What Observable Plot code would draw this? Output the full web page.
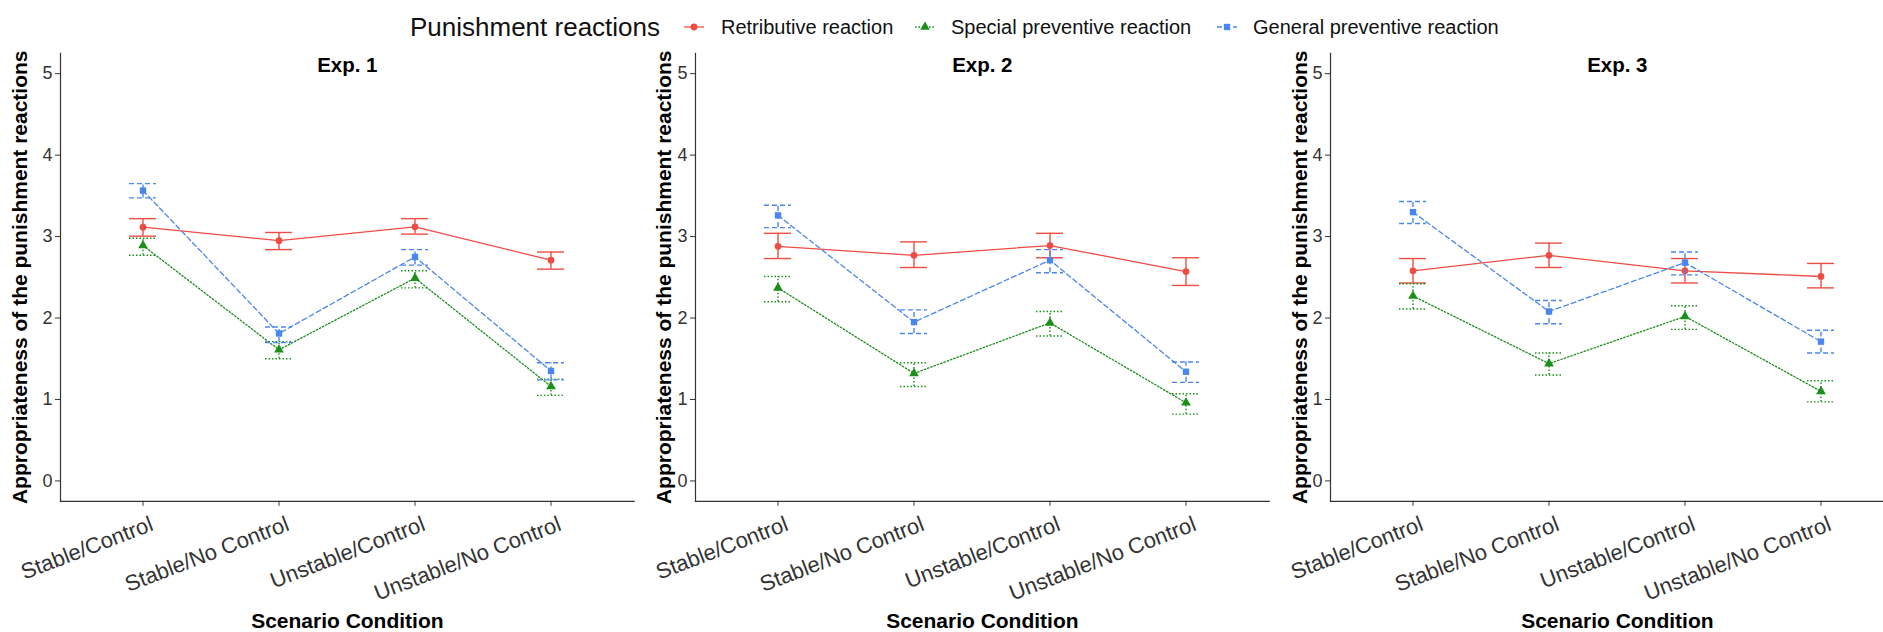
<!DOCTYPE html>
<html>
<head>
<meta charset="utf-8">
<script src="https://cdn.jsdelivr.net/npm/d3@7"></script>
<script src="https://cdn.jsdelivr.net/npm/@observablehq/plot@0.6"></script>
<style>
  html, body { margin: 0; padding: 0; background: #fff; }
  #wrap { position: relative; width: 1883px; height: 632px; overflow: hidden; background: #fff;
          font-family: "Liberation Sans", Arial, sans-serif; }
  .panel { position: absolute; top: 0; }
  .lg { position: absolute; white-space: nowrap; color: #111; line-height: 1; }
  .key { position: absolute; }
</style>
</head>
<body>
<div id="wrap"></div>
<script>
// ---------- data ----------
const conditions = ["Stable/Control", "Stable/No Control", "Unstable/Control", "Unstable/No Control"];
const seriesNames = ["Retributive reaction", "Special preventive reaction", "General preventive reaction"];
const experiments = ["Exp. 1", "Exp. 2", "Exp. 3"];
const yTicks = [0, 1, 2, 3, 4, 5];

// Exp. 1
const exp1Retributive      = [3.115, 2.95, 3.12, 2.71];
const exp1RetributiveLo    = [3.005, 2.84, 3.03, 2.60];
const exp1RetributiveHi    = [3.22, 3.05, 3.22, 2.81];
const exp1Special          = [2.89, 1.61, 2.49, 1.16];
const exp1SpecialLo        = [2.77, 1.50, 2.37, 1.05];
const exp1SpecialHi        = [2.98, 1.71, 2.58, 1.25];
const exp1General          = [3.565, 1.81, 2.75, 1.35];
const exp1GeneralLo        = [3.475, 1.70, 2.65, 1.24];
const exp1GeneralHi        = [3.65, 1.89, 2.84, 1.45];
// Exp. 2
const exp2Retributive      = [2.88, 2.77, 2.89, 2.57];
const exp2RetributiveLo    = [2.73, 2.62, 2.74, 2.40];
const exp2RetributiveHi    = [3.04, 2.935, 3.04, 2.74];
const exp2Special          = [2.37, 1.32, 1.94, 0.96];
const exp2SpecialLo        = [2.20, 1.16, 1.78, 0.82];
const exp2SpecialHi        = [2.51, 1.45, 2.08, 1.07];
const exp2General          = [3.26, 1.95, 2.71, 1.34];
const exp2GeneralLo        = [3.11, 1.81, 2.555, 1.21];
const exp2GeneralHi        = [3.385, 2.10, 2.84, 1.46];
// Exp. 3
const exp3Retributive      = [2.58, 2.77, 2.58, 2.51];
const exp3RetributiveLo    = [2.43, 2.62, 2.43, 2.37];
const exp3RetributiveHi    = [2.73, 2.92, 2.73, 2.67];
const exp3Special          = [2.27, 1.44, 2.02, 1.10];
const exp3SpecialLo        = [2.11, 1.30, 1.86, 0.97];
const exp3SpecialHi        = [2.42, 1.57, 2.15, 1.23];
const exp3General          = [3.30, 2.08, 2.68, 1.71];
const exp3GeneralLo        = [3.16, 1.93, 2.53, 1.57];
const exp3GeneralHi        = [3.43, 2.215, 2.81, 1.85];

// ---------- styles ----------
const colors = ["#EE4D44", "#1A8F1A", "#4A86EC"];
const dashes = [null, "1.5,2", "5,3"];
const symbols = ["circle", "triangle", "square"];
const radii = [3.4, 3.6, 3.6];
const FONT = '"Liberation Sans", Arial, sans-serif';

const expData = [
  [[exp1Retributive, exp1RetributiveLo, exp1RetributiveHi], [exp1Special, exp1SpecialLo, exp1SpecialHi], [exp1General, exp1GeneralLo, exp1GeneralHi]],
  [[exp2Retributive, exp2RetributiveLo, exp2RetributiveHi], [exp2Special, exp2SpecialLo, exp2SpecialHi], [exp2General, exp2GeneralLo, exp2GeneralHi]],
  [[exp3Retributive, exp3RetributiveLo, exp3RetributiveHi], [exp3Special, exp3SpecialLo, exp3SpecialHi], [exp3General, exp3GeneralLo, exp3GeneralHi]]
];

// panel geometry: frame left x, y-title offset
const panelLeft = [59.6, 695.1, 1330.0];
const yTitleOffset = [40, 31, 30];
const frameW = 573.7, ML = 60, MR = 60, MT = 52.8, MB = 131.2, H = 632;

const wrap = document.getElementById("wrap");

experiments.forEach((title, e) => {
  const marks = [];
  marks.push(Plot.frame({anchor: "left", stroke: "#333", strokeWidth: 1.2}));
  marks.push(Plot.frame({anchor: "bottom", stroke: "#333", strokeWidth: 1.2}));
  marks.push(Plot.axisY({ticks: yTicks, tickFormat: d3.format("d"), tickSize: 5, tickPadding: 3, fontSize: 18, color: "#333", label: null}));
  // x tick marks
  marks.push(Plot.axisX({tickSize: 5, tickFormat: () => "", color: "#333", label: null}));
  // x tick labels (rotated)
  marks.push(Plot.axisX({tickSize: 0, tickPadding: 22, tickRotate: -21, dx: 9, fontSize: 22, color: "#333", label: null}));
  seriesNames.forEach((name, s) => {
    const [m, lo, hi] = expData[e][s];
    const d = conditions.map((c, i) => ({series: name, cond: c, mean: m[i], lo: lo[i], hi: hi[i]}));
    const st = {stroke: colors[s], strokeWidth: 1.4};
    if (dashes[s]) st.strokeDasharray = dashes[s];
    marks.push(Plot.ruleX(d, {x: "cond", y1: "lo", y2: "hi", ...st}));
    marks.push(Plot.tickY(d, {x: "cond", y: "lo", ...st}));
    marks.push(Plot.tickY(d, {x: "cond", y: "hi", ...st}));
    marks.push(Plot.line(d, {x: "cond", y: "mean", ...st, strokeWidth: 1.3}));
    marks.push(Plot.dot(d, {x: "cond", y: "mean", symbol: () => symbols[s], r: radii[s], fill: colors[s], stroke: "none"}));
  });
  marks.push(Plot.text([title], {frameAnchor: "top", dy: 12, text: d => d, fontSize: 20.5, fontWeight: "bold", fill: "#000", lineAnchor: "middle", textAnchor: "middle"}));
  marks.push(Plot.text(["Scenario Condition"], {frameAnchor: "bottom", dy: 120, text: d => d, fontSize: 21, fontWeight: "bold", fill: "#000", lineAnchor: "middle", textAnchor: "middle"}));
  marks.push(Plot.text(["Appropriateness of the punishment reactions"], {frameAnchor: "left", dx: -yTitleOffset[e], rotate: -90, text: d => d, fontSize: 21, fontWeight: "bold", fill: "#000", lineAnchor: "middle", textAnchor: "middle"}));

  const chart = Plot.plot({
    width: ML + frameW + MR, height: H,
    marginLeft: ML, marginRight: MR, marginTop: MT, marginBottom: MB,
    style: {background: "transparent", fontFamily: FONT, overflow: "visible"},
    x: {type: "band", domain: conditions, paddingInner: 0.8, paddingOuter: 0.5},
    y: {domain: [-0.25, 5.25]},
    symbol: {type: "identity"},
    marks
  });
  chart.classList.add("panel");
  chart.style.position = "absolute";
  chart.style.left = (panelLeft[e] - ML) + "px";
  chart.style.top = "0px";
  wrap.appendChild(chart);
});

// ---------- legend (HTML, above the panels) ----------
function addText(txt, x, size) {
  const el = document.createElement("div");
  el.className = "lg";
  el.textContent = txt;
  el.style.left = x + "px";
  el.style.top = (27 - size * 0.487) + "px";
  el.style.fontSize = size + "px";
  wrap.appendChild(el);
}
function addKey(x, s) {
  const ns = "http://www.w3.org/2000/svg";
  const svg = document.createElementNS(ns, "svg");
  svg.setAttribute("width", 20); svg.setAttribute("height", 14);
  svg.setAttribute("class", "key");
  svg.style.left = x + "px"; svg.style.top = "20px";
  const ln = document.createElementNS(ns, "line");
  ln.setAttribute("x1", 0); ln.setAttribute("x2", 20); ln.setAttribute("y1", 7); ln.setAttribute("y2", 7);
  ln.setAttribute("stroke", colors[s]); ln.setAttribute("stroke-width", 1.3);
  if (dashes[s]) ln.setAttribute("stroke-dasharray", dashes[s]);
  svg.appendChild(ln);
  const sym = d3.symbol().type(s === 0 ? d3.symbolCircle : s === 1 ? d3.symbolTriangle : d3.symbolSquare).size(s === 0 ? 36 : 40);
  const p = document.createElementNS(ns, "path");
  p.setAttribute("d", sym()); p.setAttribute("transform", "translate(10,7)");
  p.setAttribute("fill", colors[s]);
  svg.appendChild(p);
  wrap.appendChild(svg);
}
addText("Punishment reactions", 410, 26);
addKey(684, 0); addText(seriesNames[0], 721, 20);
addKey(915, 1); addText(seriesNames[1], 951, 20);
addKey(1217, 2); addText(seriesNames[2], 1253, 20);
</script>
</body>
</html>
